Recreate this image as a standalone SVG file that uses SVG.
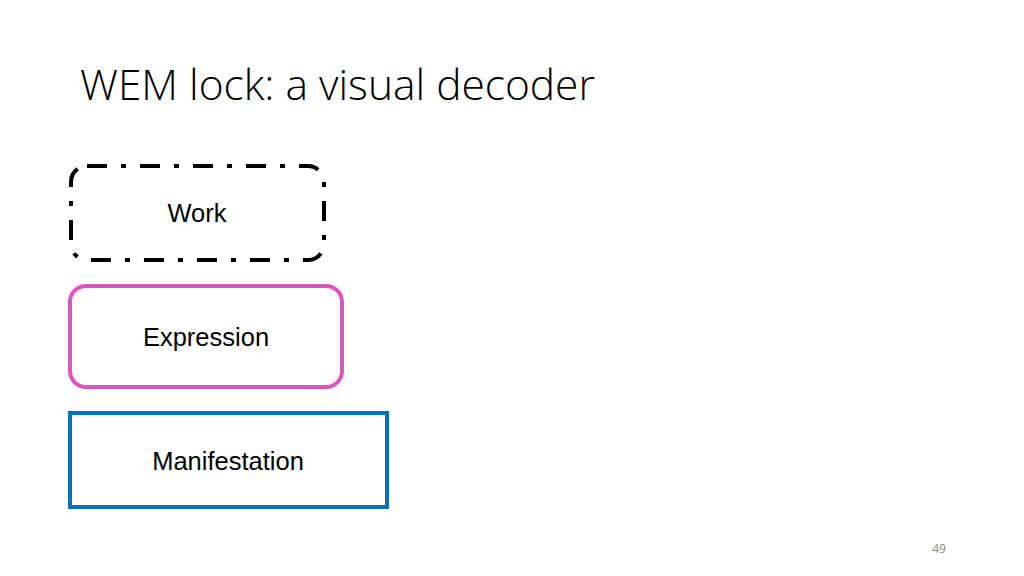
<svg xmlns="http://www.w3.org/2000/svg" width="1024" height="576" viewBox="0 0 1024 576">
<style>
.lbl{font-family:"Liberation Sans",Arial,sans-serif;font-size:25.5px;fill:#000;text-anchor:middle}
.box{fill:#fff;stroke-width:4}
</style>
<rect width="1024" height="576" fill="#fff"/>
<text x="80" y="100" font-family="'Open Sans',sans-serif" font-weight="300" font-size="42" fill="#000" textLength="515" lengthAdjust="spacingAndGlyphs">WEM lock: a visual decoder</text>
<g id="work">
<rect class="box" x="71" y="166" width="253" height="94" rx="16" stroke="#000" stroke-dasharray="20 14 5 14"/>
<text class="lbl" x="197" y="222">Work</text>
</g>
<g id="expression">
<rect class="box" x="70" y="286" width="272" height="101" rx="16" stroke="#DE54BF"/>
<text class="lbl" x="206" y="346">Expression</text>
</g>
<g id="manifestation">
<rect class="box" x="70" y="413" width="317" height="94" stroke="#0070C0"/>
<text class="lbl" x="228" y="470">Manifestation</text>
</g>
<g id="connectors"></g>
<text x="939" y="553" font-family="'Open Sans',sans-serif" font-size="12" fill="#898989" text-anchor="middle">49</text>
</svg>
